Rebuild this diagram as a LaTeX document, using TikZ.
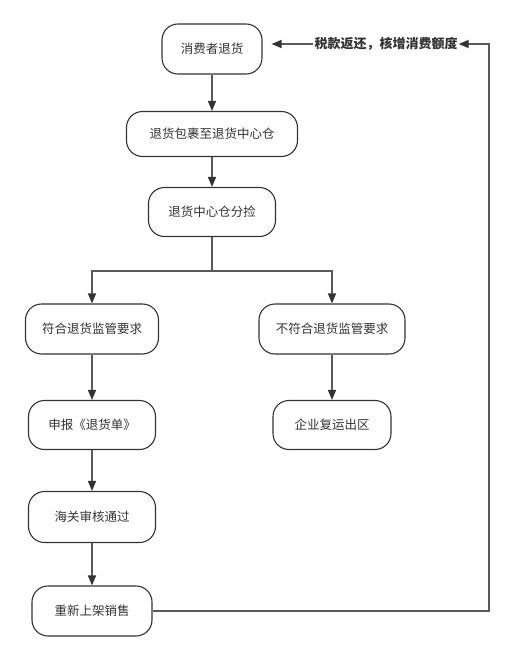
\documentclass[tikz,border=0pt]{standalone}
\usepackage{fontspec}
\usepackage{tikz}
\usetikzlibrary{arrows.meta}
\setmainfont{Noto Sans CJK SC}
\definecolor{flowline}{HTML}{595959}
\definecolor{flowdark}{HTML}{333333}

\begin{document}
\begin{tikzpicture}[x=1pt,y=-1pt,
  step box/.style={draw=flowdark, line width=1.1pt, rounded corners=16pt, fill=white,
    text=flowdark, font=\fontsize{12.5}{14}\selectfont, inner sep=0pt},
  flow/.style={draw=flowline, line width=1.5pt, -{Triangle[length=10pt,width=8pt,color=flowdark]}}]
\useasboundingbox (0,0) rectangle (514,661);
% main chain
\node[step box, minimum width=100pt, minimum height=50pt] (consumer) at (212,49) {消费者退货};
\node[step box, minimum width=171pt, minimum height=45pt] (parcel) at (212,134) {退货包裹至退货中心仓};
\node[step box, minimum width=127pt, minimum height=49pt] (sort) at (212,212) {退货中心仓分捡};
\node[step box, minimum width=133pt, minimum height=50pt] (ok) at (92,329) {符合退货监管要求};
\node[step box, minimum width=146pt, minimum height=50pt] (notok) at (332,329) {不符合退货监管要求};
\node[step box, minimum width=127pt, minimum height=49pt] (declare) at (92,425) {申报《退货单》};
\node[step box, minimum width=118pt, minimum height=49pt] (reship) at (332,425) {企业复运出区};
\node[step box, minimum width=127pt, minimum height=51pt] (audit) at (92,517) {海关审核通过};
\node[step box, minimum width=120pt, minimum height=50pt] (resell) at (92,611) {重新上架销售};
% feedback label
\node[font=\fontsize{13}{15}\selectfont\bfseries, text=flowdark, inner sep=1pt] (refund) at (386,44) {税款返还，核增消费额度};
\coordinate (split) at (212,271);
\coordinate (turn) at (489,44);

\draw[flow] (consumer) -- (parcel);
\draw[flow] (parcel) -- (sort);
\draw[draw=flowline, line width=1.5pt] (sort) -- (split);
\draw[flow] (split) -| (ok);
\draw[flow] (split) -| (notok);
\draw[flow] (ok) -- (declare);
\draw[flow] (declare) -- (audit);
\draw[flow] (audit) -- (resell);
\draw[flow] (notok) -- (reship);
\draw[flow] (resell.east) -| (turn) -- (refund.east);
\draw[flow, shorten >=9pt] (refund.west) -- (consumer.east |- refund.west);
\end{tikzpicture}
\end{document}
